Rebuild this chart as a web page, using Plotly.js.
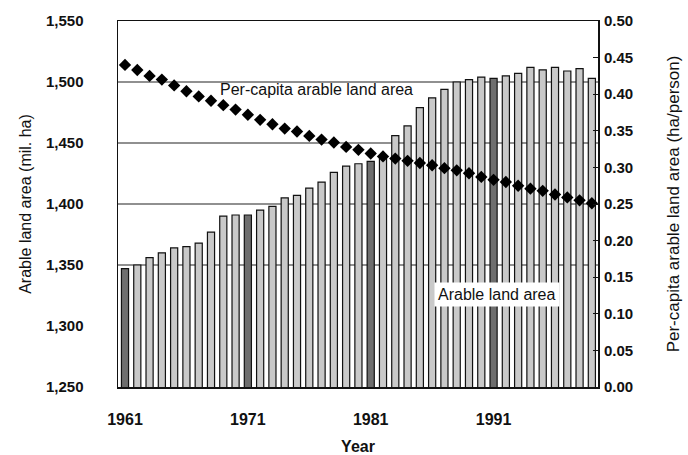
<!DOCTYPE html>
<html>
<head>
<meta charset="utf-8">
<script src="https://cdn.plot.ly/plotly-3.0.1.min.js"></script>
<style>html,body{margin:0;padding:0;background:#fff}#chart{width:688px;height:455px}</style>
</head>
<body>
<div id="chart"></div>
<script>
const years = [1961,1962,1963,1964,1965,1966,1967,1968,1969,1970,
  1971,1972,1973,1974,1975,1976,1977,1978,1979,1980,
  1981,1982,1983,1984,1985,1986,1987,1988,1989,1990,
  1991,1992,1993,1994,1995,1996,1997,1998,1999];
const arableLand = [1347,1350,1356,1360,1364,1365,1368,1377,1390,1391,
  1391,1395,1398,1405,1407,1413,1418,1426,1431,1433,
  1435,1438,1456,1464,1479,1487,1494,1500,1502,1504,
  1503,1505,1507,1512,1510,1512,1509,1511,1503];
const perCapita = [0.440,0.433,0.425,0.420,0.412,0.404,0.397,0.391,0.385,0.379,
  0.372,0.365,0.359,0.353,0.349,0.343,0.338,0.334,0.328,0.324,
  0.319,0.315,0.312,0.309,0.306,0.303,0.299,0.296,0.292,0.287,
  0.283,0.280,0.275,0.271,0.268,0.263,0.259,0.255,0.251];
const highlightYears = [1961,1971,1981,1991];
const xTickYears = [1961,1971,1981,1991];
const leftTicks = [1250,1300,1350,1400,1450,1500,1550];
const rightTicks = [0,0.05,0.10,0.15,0.20,0.25,0.30,0.35,0.40,0.45,0.50];
const gridValues = [1350,1400,1450,1500];

const FONT = 'Liberation Sans, Arial, Helvetica, sans-serif';
const barColors = years.map(y => highlightYears.includes(y) ? '#6e6e6e' : '#c9c9c9');

const traces = [
  {
    type: 'bar', x: years, y: arableLand, base: 0,
    marker: {color: barColors, line: {color: '#111', width: 1.2}},
    width: 0.58, yaxis: 'y', hoverinfo: 'skip'
  },
  {
    type: 'scatter', mode: 'markers', x: years, y: perCapita, yaxis: 'y2',
    marker: {symbol: 'diamond', size: 9.5, color: '#000'}, hoverinfo: 'skip'
  }
];

const shapes = gridValues.map(v => ({
  type: 'line', xref: 'paper', x0: 0, x1: 1, yref: 'y', y0: v, y1: v,
  line: {color: '#222', width: 1.2}, layer: 'below'
}));

const layout = {
  width: 688, height: 455,
  margin: {l: 118, r: 90, t: 21, b: 68},
  paper_bgcolor: '#fff', plot_bgcolor: '#fff',
  showlegend: false,
  bargap: 0,
  font: {family: FONT, color: '#111'},
  xaxis: {
    range: [1960.43, 1999.5],
    tickvals: xTickYears, ticktext: xTickYears.map(String),
    ticks: '', showgrid: false, zeroline: false,
    showline: true, linecolor: '#111', linewidth: 1.5, mirror: true,
    tickfont: {size: 16, weight: 'bold', family: FONT},
    ticklabelstandoff: 17,
    title: {text: 'Year', font: {size: 16, weight: 'bold', family: FONT}, standoff: 15}
  },
  yaxis: {
    range: [1250, 1550],
    tickvals: leftTicks, tickformat: ',d',
    ticks: '', showgrid: false, zeroline: false,
    showline: true, linecolor: '#111', linewidth: 1.5, mirror: true,
    tickfont: {size: 15, weight: 'bold', family: FONT},
    ticklabelstandoff: 30,
    title: {text: 'Arable land area (mil. ha)', font: {size: 16, family: FONT}, standoff: 10}
  },
  yaxis2: {
    range: [0, 0.5], overlaying: 'y', side: 'right',
    tickvals: rightTicks, tickformat: '.2f',
    ticks: 'inside', ticklen: 5, tickcolor: '#111', tickwidth: 1,
    showgrid: false, zeroline: false, showline: false,
    tickfont: {size: 15, weight: 'bold', family: FONT},
    ticklabelstandoff: 5,
    title: {text: 'Per-capita arable land area (ha/person)', font: {size: 17, family: FONT}, standoff: 34}
  },
  shapes: shapes,
  annotations: [
    {x: 1976.6, y: 1494, xref: 'x', yref: 'y', text: 'Per-capita arable land area',
     showarrow: false, font: {size: 16, family: FONT, color: '#111'}},
    {x: 1991.3, y: 1325.5, xref: 'x', yref: 'y', text: 'Arable land area',
     showarrow: false, bgcolor: '#fff', borderpad: 3,
     font: {size: 16, family: FONT, color: '#111'}}
  ]
};

Plotly.newPlot('chart', traces, layout, {displayModeBar: false, staticPlot: true});
</script>
</body>
</html>
